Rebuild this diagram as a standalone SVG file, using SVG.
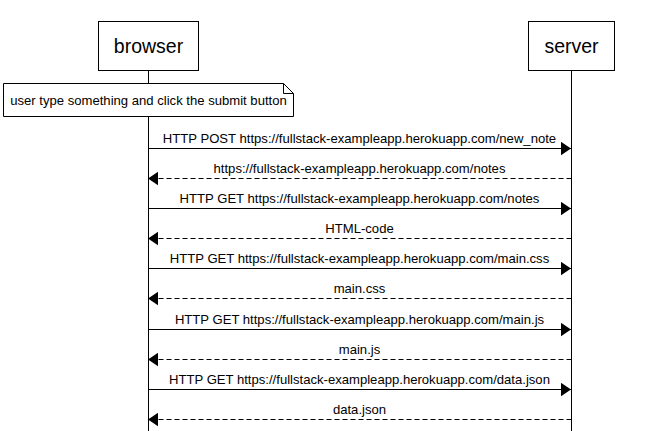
<svg xmlns="http://www.w3.org/2000/svg" width="669" height="431" viewBox="0 0 669 431">
<style>
.box{fill:#fff;stroke:#000;stroke-width:1}
.life{stroke:#000;stroke-width:1;fill:none}
.ptxt{font-family:"Liberation Sans",Arial,sans-serif;font-size:19.5px;text-anchor:middle;fill:#000}
.txt{font-family:"Liberation Sans",Arial,sans-serif;font-size:13.1px;text-anchor:middle;fill:#000}
.msg{stroke:#000;stroke-width:1;fill:none;marker-end:url(#ah)}
.ret{stroke-dasharray:5,3}
</style>
<defs>
<marker id="ah" markerUnits="userSpaceOnUse" markerWidth="11" markerHeight="14" refX="10" refY="7" orient="auto" viewBox="0 0 11 14">
<path d="M0,0.3 L10,7 L0,13.7 Z" fill="#000" stroke="none"/>
</marker>
</defs>
<rect width="669" height="431" fill="#fff"/>
<g id="lifelines">
<line class="life" x1="148.5" y1="70" x2="148.5" y2="431"/>
<line class="life" x1="571.5" y1="70" x2="571.5" y2="431"/>
</g>
<g id="browser">
<rect class="box" x="98.5" y="21.5" width="100" height="49"/>
<text class="ptxt" x="148.5" y="53">browser</text>
</g>
<g id="server">
<rect class="box" x="528.5" y="21.5" width="86" height="49"/>
<text class="ptxt" x="571.5" y="53">server</text>
</g>
<g id="note">
<path class="box" d="M3.5,83.5 H283.5 L293.5,93.5 V116.5 H3.5 Z"/>
<path class="life" d="M283.5,83.5 V93.5 H293.5"/>
<text class="txt" x="148.5" y="104.5">user type something and click the submit button</text>
</g>
<g id="connectors">
<line class="msg" x1="148.5" y1="148.5" x2="571" y2="148.5"/>
<text class="txt" x="359.5" y="142.5">HTTP POST https://fullstack-exampleapp.herokuapp.com/new_note</text>
<line class="msg ret" x1="571.5" y1="178.5" x2="148" y2="178.5"/>
<text class="txt" x="359.5" y="172.5">https://fullstack-exampleapp.herokuapp.com/notes</text>
<line class="msg" x1="148.5" y1="208.5" x2="571" y2="208.5"/>
<text class="txt" x="359.5" y="202.5">HTTP GET https://fullstack-exampleapp.herokuapp.com/notes</text>
<line class="msg ret" x1="571.5" y1="238.5" x2="148" y2="238.5"/>
<text class="txt" x="359.5" y="232.5">HTML-code</text>
<line class="msg" x1="148.5" y1="268.5" x2="571" y2="268.5"/>
<text class="txt" x="359.5" y="262.5">HTTP GET https://fullstack-exampleapp.herokuapp.com/main.css</text>
<line class="msg ret" x1="571.5" y1="298.5" x2="148" y2="298.5"/>
<text class="txt" x="359.5" y="292.5">main.css</text>
<line class="msg" x1="148.5" y1="329.5" x2="571" y2="329.5"/>
<text class="txt" x="359.5" y="323.5">HTTP GET https://fullstack-exampleapp.herokuapp.com/main.js</text>
<line class="msg ret" x1="571.5" y1="359.5" x2="148" y2="359.5"/>
<text class="txt" x="359.5" y="353.5">main.js</text>
<line class="msg" x1="148.5" y1="389.5" x2="571" y2="389.5"/>
<text class="txt" x="359.5" y="383.5">HTTP GET https://fullstack-exampleapp.herokuapp.com/data.json</text>
<line class="msg ret" x1="571.5" y1="419.5" x2="148" y2="419.5"/>
<text class="txt" x="359.5" y="413.5">data.json</text>
</g>
</svg>
